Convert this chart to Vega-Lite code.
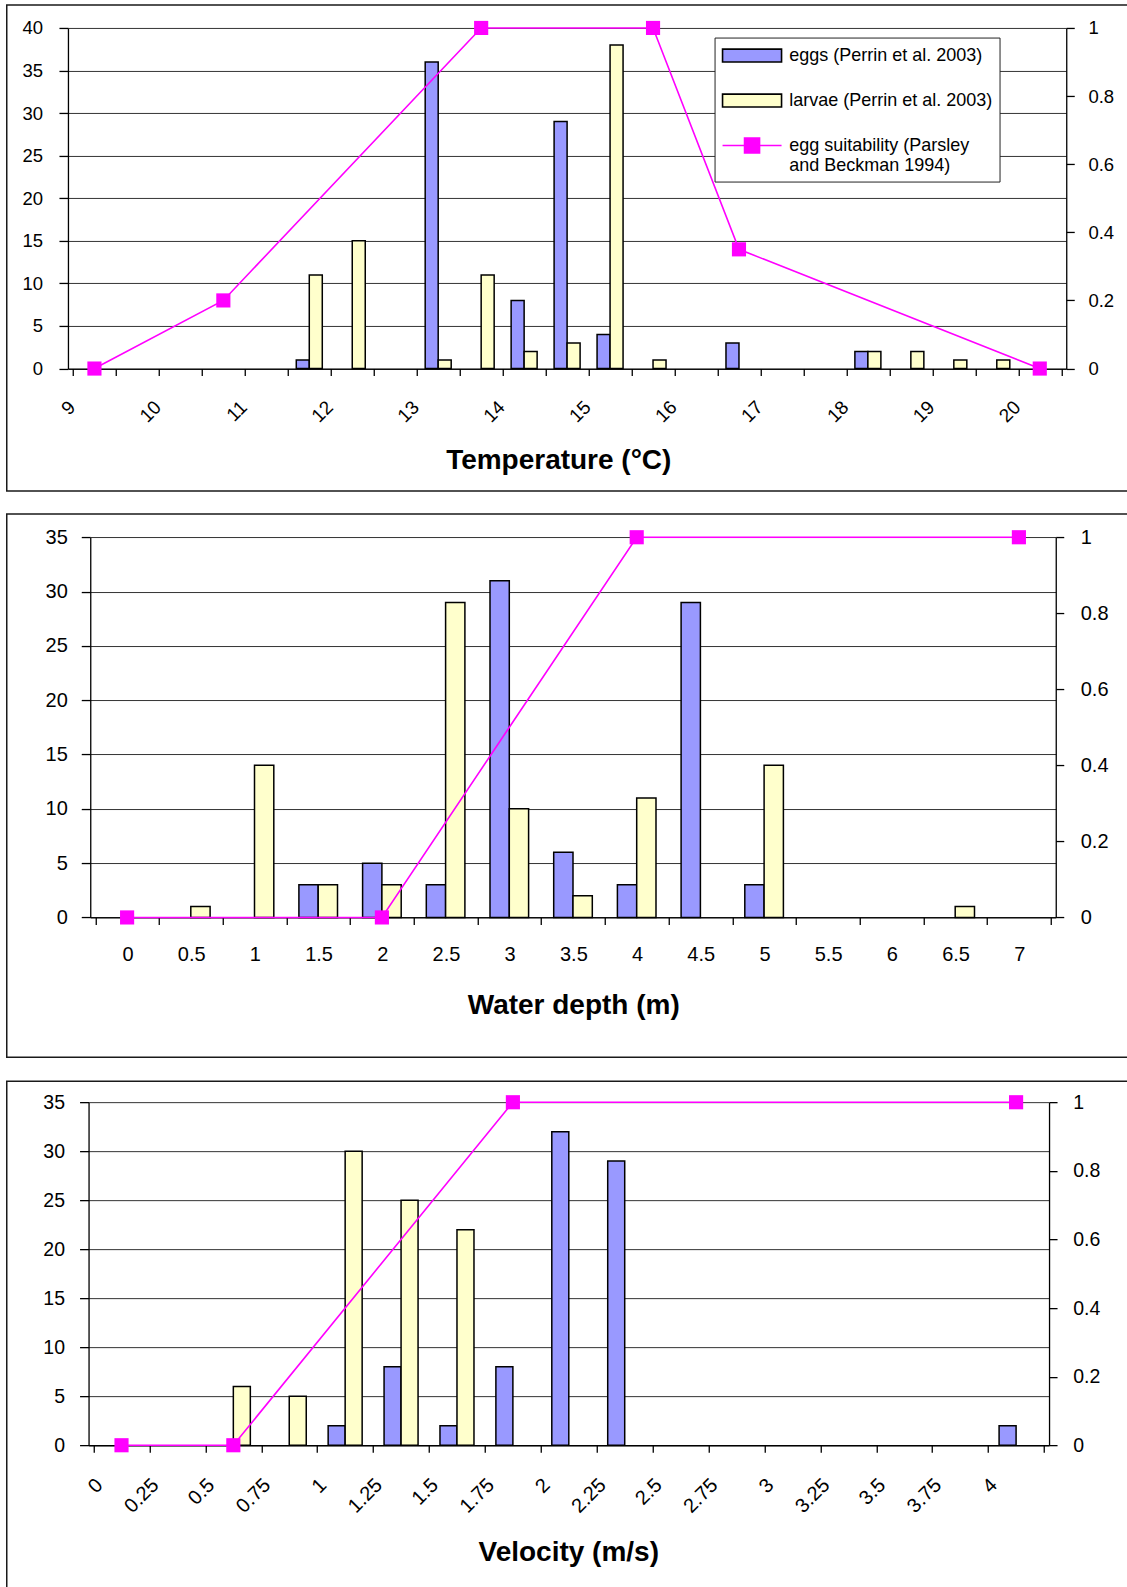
{
  "$schema": "https://vega.github.io/schema/vega-lite/v6.json",
  "background": "white",
  "padding": {"left": 5.75, "top": 3.95, "right": 0, "bottom": 0},
  "spacing": 21.1,
  "datasets": {
    "temperature_counts": [
      {"temp": 11.5, "stage": "eggs (Perrin et al. 2003)", "n": 1},
      {"temp": 11.5, "stage": "larvae (Perrin et al. 2003)", "n": 11},
      {"temp": 12.0, "stage": "larvae (Perrin et al. 2003)", "n": 15},
      {"temp": 13.0, "stage": "eggs (Perrin et al. 2003)", "n": 36},
      {"temp": 13.0, "stage": "larvae (Perrin et al. 2003)", "n": 1},
      {"temp": 13.5, "stage": "larvae (Perrin et al. 2003)", "n": 11},
      {"temp": 14.0, "stage": "eggs (Perrin et al. 2003)", "n": 8},
      {"temp": 14.0, "stage": "larvae (Perrin et al. 2003)", "n": 2},
      {"temp": 14.5, "stage": "eggs (Perrin et al. 2003)", "n": 29},
      {"temp": 14.5, "stage": "larvae (Perrin et al. 2003)", "n": 3},
      {"temp": 15.0, "stage": "eggs (Perrin et al. 2003)", "n": 4},
      {"temp": 15.0, "stage": "larvae (Perrin et al. 2003)", "n": 38},
      {"temp": 15.5, "stage": "larvae (Perrin et al. 2003)", "n": 1},
      {"temp": 16.5, "stage": "eggs (Perrin et al. 2003)", "n": 3},
      {"temp": 18.0, "stage": "eggs (Perrin et al. 2003)", "n": 2},
      {"temp": 18.0, "stage": "larvae (Perrin et al. 2003)", "n": 2},
      {"temp": 18.5, "stage": "larvae (Perrin et al. 2003)", "n": 2},
      {"temp": 19.0, "stage": "larvae (Perrin et al. 2003)", "n": 1},
      {"temp": 19.5, "stage": "larvae (Perrin et al. 2003)", "n": 1}
    ],
    "temperature_suitability": [
      {"temp": 9.0, "suitability": 0},
      {"temp": 10.5, "suitability": 0.2},
      {"temp": 13.5, "suitability": 1},
      {"temp": 15.5, "suitability": 1},
      {"temp": 16.5, "suitability": 0.35},
      {"temp": 20.0, "suitability": 0}
    ],
    "depth_counts": [
      {"depth": 0.5, "stage": "larvae", "n": 1},
      {"depth": 1.0, "stage": "larvae", "n": 14},
      {"depth": 1.5, "stage": "eggs", "n": 3},
      {"depth": 1.5, "stage": "larvae", "n": 3},
      {"depth": 2.0, "stage": "eggs", "n": 5},
      {"depth": 2.0, "stage": "larvae", "n": 3},
      {"depth": 2.5, "stage": "eggs", "n": 3},
      {"depth": 2.5, "stage": "larvae", "n": 29},
      {"depth": 3.0, "stage": "eggs", "n": 31},
      {"depth": 3.0, "stage": "larvae", "n": 10},
      {"depth": 3.5, "stage": "eggs", "n": 6},
      {"depth": 3.5, "stage": "larvae", "n": 2},
      {"depth": 4.0, "stage": "eggs", "n": 3},
      {"depth": 4.0, "stage": "larvae", "n": 11},
      {"depth": 4.5, "stage": "eggs", "n": 29},
      {"depth": 5.0, "stage": "eggs", "n": 3},
      {"depth": 5.0, "stage": "larvae", "n": 14},
      {"depth": 6.5, "stage": "larvae", "n": 1}
    ],
    "depth_suitability": [
      {"depth": 0, "suitability": 0},
      {"depth": 2, "suitability": 0},
      {"depth": 4, "suitability": 1},
      {"depth": 7, "suitability": 1}
    ],
    "velocity_counts": [
      {"velocity": 0.5, "stage": "larvae", "n": 6},
      {"velocity": 0.75, "stage": "larvae", "n": 5},
      {"velocity": 1.0, "stage": "eggs", "n": 2},
      {"velocity": 1.0, "stage": "larvae", "n": 30},
      {"velocity": 1.25, "stage": "eggs", "n": 8},
      {"velocity": 1.25, "stage": "larvae", "n": 25},
      {"velocity": 1.5, "stage": "eggs", "n": 2},
      {"velocity": 1.5, "stage": "larvae", "n": 22},
      {"velocity": 1.75, "stage": "eggs", "n": 8},
      {"velocity": 2.0, "stage": "eggs", "n": 32},
      {"velocity": 2.25, "stage": "eggs", "n": 29},
      {"velocity": 4.0, "stage": "eggs", "n": 2}
    ],
    "velocity_suitability": [
      {"velocity": 0, "suitability": 0},
      {"velocity": 0.5, "suitability": 0},
      {"velocity": 1.75, "suitability": 1},
      {"velocity": 4, "suitability": 1}
    ]
  },
  "vconcat": [
    {
      "width": 1135,
      "height": 486,
      "resolve": {"scale": {"y": "independent"}},
      "encoding": {
        "x": {
          "field": "temp",
          "type": "quantitative",
          "scale": {"domain": [8.75, 20.25], "range": [61.2, 1059.5], "nice": false, "zero": false},
          "axis": {
            "orient": "bottom",
            "offset": -122.4,
            "values": [8.75, 9.25, 9.75, 10.25, 10.75, 11.25, 11.75, 12.25, 12.75, 13.25, 13.75, 14.25, 14.75, 15.25, 15.75, 16.25, 16.75, 17.25, 17.75, 18.25, 18.75, 19.25, 19.75, 20.25],
            "labelExpr": "(datum.value + 0.25) % 1 === 0 && datum.value < 20 ? format(datum.value + 0.25, 'd') : ''",
            "labelAngle": -45,
            "labelAlign": "right",
            "labelBaseline": "middle",
            "labelOffset": -1.3,
            "labelPadding": 28.2,
            "labelFontSize": 19,
            "tickSize": 7,
            "grid": false,
            "title": "Temperature (°C)",
            "titleFontSize": 28,
            "titleFontWeight": "bold",
            "titleX": 551.5,
            "titleY": 99.7,
            "titleBaseline": "alphabetic",
            "titleAlign": "center"
          }
        }
      },
      "layer": [
        {
          "data": {"name": "temperature_counts"},
          "encoding": {
            "y": {
              "field": "n",
              "type": "quantitative",
              "scale": {"domain": [0, 40], "range": [363.6, 23.0], "nice": false},
              "axis": {
                "orient": "left",
                "offset": -61.2,
                "values": [0, 5, 10, 15, 20, 25, 30, 35, 40],
                "tickSize": 9,
                "labelPadding": 16.5,
                "labelFontSize": 18.5,
                "grid": true,
                "title": null
              }
            },
            "color": {
              "field": "stage",
              "type": "nominal",
              "scale": {
                "domain": ["eggs (Perrin et al. 2003)", "larvae (Perrin et al. 2003)", "egg suitability (Parsley and Beckman 1994)"],
                "range": ["#9999FF", "#FFFFCC", "#FF00FF"]
              },
              "legend": {
                "orient": "none",
                "legendX": 707.8,
                "legendY": 32.6,
                "direction": "vertical",
                "title": null,
                "padding": 7,
                "strokeColor": "#222222",
                "fillColor": "white",
                "labelFont": "Liberation Sans",
                "labelFontSize": 18,
                "labelColor": "black",
                "labelLimit": 500,
                "labelOffset": 45.7,
                "rowPadding": 24,
                "symbolSize": 400,
                "symbolType": {"expr": "datum.value === 'egg suitability (Parsley and Beckman 1994)' ? 'M-1,0H4.9M1.2,-0.75H2.7V0.75H1.2Z' : 'M-1,-0.64H4.9V0.64H-1Z'"},
                "symbolStrokeColor": {"expr": "datum.value === 'egg suitability (Parsley and Beckman 1994)' ? '#FF00FF' : 'black'"},
                "symbolStrokeWidth": 1.6,
                "symbolOpacity": 1,
                "labelExpr": "datum.value === 'egg suitability (Parsley and Beckman 1994)' ? ['egg suitability (Parsley', 'and Beckman 1994)'] : datum.label"
              }
            }
          },
          "layer": [
            {
              "transform": [{"filter": "datum.stage === 'eggs (Perrin et al. 2003)'"}],
              "mark": {"type": "bar", "orient": "vertical", "width": 13, "xOffset": -6.5, "stroke": "black", "strokeWidth": 1.5, "opacity": 1}
            },
            {
              "transform": [{"filter": "datum.stage === 'larvae (Perrin et al. 2003)'"}],
              "mark": {"type": "bar", "orient": "vertical", "width": 13, "xOffset": 6.5, "stroke": "black", "strokeWidth": 1.5, "opacity": 1}
            }
          ]
        },
        {
          "data": {"name": "temperature_suitability"},
          "encoding": {
            "y": {
              "field": "suitability",
              "type": "quantitative",
              "scale": {"domain": [0, 1], "range": [363.6, 23.0], "nice": false},
              "axis": {
                "orient": "right",
                "offset": -75.5,
                "values": [0, 0.2, 0.4, 0.6, 0.8, 1],
                "format": "~g",
                "tickSize": 8,
                "labelPadding": 13.7,
                "labelFontSize": 18.5,
                "grid": false,
                "title": null
              }
            }
          },
          "layer": [
            {"mark": {"type": "line", "color": "#FF00FF", "strokeWidth": 1.6}},
            {"mark": {"type": "point", "shape": "square", "size": 200, "filled": true, "color": "#FF00FF", "opacity": 1}}
          ]
        }
      ]
    },
    {
      "width": 1135,
      "height": 543.3,
      "resolve": {"scale": {"y": "independent"}},
      "encoding": {
        "x": {
          "field": "depth",
          "type": "quantitative",
          "scale": {"domain": [-0.25, 7.25], "range": [83.5, 1049], "nice": false, "zero": false},
          "axis": {
            "orient": "bottom",
            "offset": -139.9,
            "values": [-0.25, 0.25, 0.75, 1.25, 1.75, 2.25, 2.75, 3.25, 3.75, 4.25, 4.75, 5.25, 5.75, 6.25, 6.75, 7.25],
            "labelExpr": "datum.value < 7 ? format(datum.value + 0.25, '~g') : ''",
            "labelAngle": 0,
            "labelAlign": "center",
            "labelBaseline": "middle",
            "labelOffset": 32.2,
            "labelPadding": 29.9,
            "labelFontSize": 20,
            "tickSize": 7,
            "grid": false,
            "title": "Water depth (m)",
            "titleFontSize": 28,
            "titleFontWeight": "bold",
            "titleX": 566.5,
            "titleY": 96.4,
            "titleBaseline": "alphabetic",
            "titleAlign": "center"
          }
        }
      },
      "layer": [
        {
          "data": {"name": "depth_counts"},
          "encoding": {
            "y": {
              "field": "n",
              "type": "quantitative",
              "scale": {"domain": [0, 35], "range": [403.4, 23.2], "nice": false},
              "axis": {
                "orient": "left",
                "offset": -83.5,
                "values": [0, 5, 10, 15, 20, 25, 30, 35],
                "tickSize": 9,
                "labelPadding": 14,
                "labelFontSize": 20,
                "grid": true,
                "title": null
              }
            }
          },
          "layer": [
            {
              "transform": [{"filter": "datum.stage === 'eggs'"}],
              "mark": {"type": "bar", "orient": "vertical", "width": 19.3, "xOffset": -9.65, "fill": "#9999FF", "stroke": "black", "strokeWidth": 1.5, "opacity": 1}
            },
            {
              "transform": [{"filter": "datum.stage === 'larvae'"}],
              "mark": {"type": "bar", "orient": "vertical", "width": 19.3, "xOffset": 9.65, "fill": "#FFFFCC", "stroke": "black", "strokeWidth": 1.5, "opacity": 1}
            }
          ]
        },
        {
          "data": {"name": "depth_suitability"},
          "encoding": {
            "y": {
              "field": "suitability",
              "type": "quantitative",
              "scale": {"domain": [0, 1], "range": [403.4, 23.2], "nice": false},
              "axis": {
                "orient": "right",
                "offset": -86,
                "values": [0, 0.2, 0.4, 0.6, 0.8, 1],
                "format": "~g",
                "tickSize": 8,
                "labelPadding": 16.5,
                "labelFontSize": 20,
                "grid": false,
                "title": null
              }
            }
          },
          "layer": [
            {"mark": {"type": "line", "color": "#FF00FF", "strokeWidth": 1.6}},
            {"mark": {"type": "point", "shape": "square", "size": 200, "filled": true, "color": "#FF00FF", "opacity": 1}}
          ]
        }
      ]
    },
    {
      "width": 1135,
      "height": 521,
      "resolve": {"scale": {"y": "independent"}},
      "encoding": {
        "x": {
          "field": "velocity",
          "type": "quantitative",
          "scale": {"domain": [-0.125, 4.125], "range": [81.8, 1042.3], "nice": false, "zero": false},
          "axis": {
            "orient": "bottom",
            "offset": -156.9,
            "values": [-0.125, 0.125, 0.375, 0.625, 0.875, 1.125, 1.375, 1.625, 1.875, 2.125, 2.375, 2.625, 2.875, 3.125, 3.375, 3.625, 3.875, 4.125],
            "labelExpr": "datum.value < 4 ? format(datum.value + 0.125, '~g') : ''",
            "labelAngle": -45,
            "labelAlign": "right",
            "labelBaseline": "middle",
            "labelOffset": 5.6,
            "labelPadding": 29.4,
            "labelFontSize": 20,
            "tickSize": 7,
            "grid": false,
            "title": "Velocity (m/s)",
            "titleFontSize": 28,
            "titleFontWeight": "bold",
            "titleX": 561.5,
            "titleY": 115.7,
            "titleBaseline": "alphabetic",
            "titleAlign": "center"
          }
        }
      },
      "layer": [
        {
          "data": {"name": "velocity_counts"},
          "encoding": {
            "y": {
              "field": "n",
              "type": "quantitative",
              "scale": {"domain": [0, 35], "range": [364.1, 21.1], "nice": false},
              "axis": {
                "orient": "left",
                "offset": -81.8,
                "values": [0, 5, 10, 15, 20, 25, 30, 35],
                "tickSize": 9,
                "labelPadding": 15,
                "labelFontSize": 19.5,
                "grid": true,
                "title": null
              }
            }
          },
          "layer": [
            {
              "transform": [{"filter": "datum.stage === 'eggs'"}],
              "mark": {"type": "bar", "orient": "vertical", "width": 17, "xOffset": -8.5, "fill": "#9999FF", "stroke": "black", "strokeWidth": 1.5, "opacity": 1}
            },
            {
              "transform": [{"filter": "datum.stage === 'larvae'"}],
              "mark": {"type": "bar", "orient": "vertical", "width": 17, "xOffset": 8.5, "fill": "#FFFFCC", "stroke": "black", "strokeWidth": 1.5, "opacity": 1}
            }
          ]
        },
        {
          "data": {"name": "velocity_suitability"},
          "encoding": {
            "y": {
              "field": "suitability",
              "type": "quantitative",
              "scale": {"domain": [0, 1], "range": [364.1, 21.1], "nice": false},
              "axis": {
                "orient": "right",
                "offset": -92.7,
                "values": [0, 0.2, 0.4, 0.6, 0.8, 1],
                "format": "~g",
                "tickSize": 8,
                "labelPadding": 15.6,
                "labelFontSize": 19.5,
                "grid": false,
                "title": null
              }
            }
          },
          "layer": [
            {"mark": {"type": "line", "color": "#FF00FF", "strokeWidth": 1.6}},
            {"mark": {"type": "point", "shape": "square", "size": 200, "filled": true, "color": "#FF00FF", "opacity": 1}}
          ]
        }
      ]
    }
  ],
  "resolve": {
    "scale": {"x": "independent", "y": "independent", "color": "independent"},
    "legend": {"color": "independent"}
  },
  "config": {
    "font": "Liberation Sans",
    "view": {"stroke": "#1a1a1a", "strokeWidth": 1.5},
    "axis": {
      "labelFont": "Liberation Sans",
      "titleFont": "Liberation Sans",
      "labelColor": "black",
      "titleColor": "black",
      "domainColor": "black",
      "domainWidth": 1.3,
      "tickColor": "black",
      "tickWidth": 1.3,
      "gridColor": "#333333",
      "gridWidth": 1,
      "labelOverlap": false,
      "labelFlush": false,
      "labelBound": false
    }
  }
}
